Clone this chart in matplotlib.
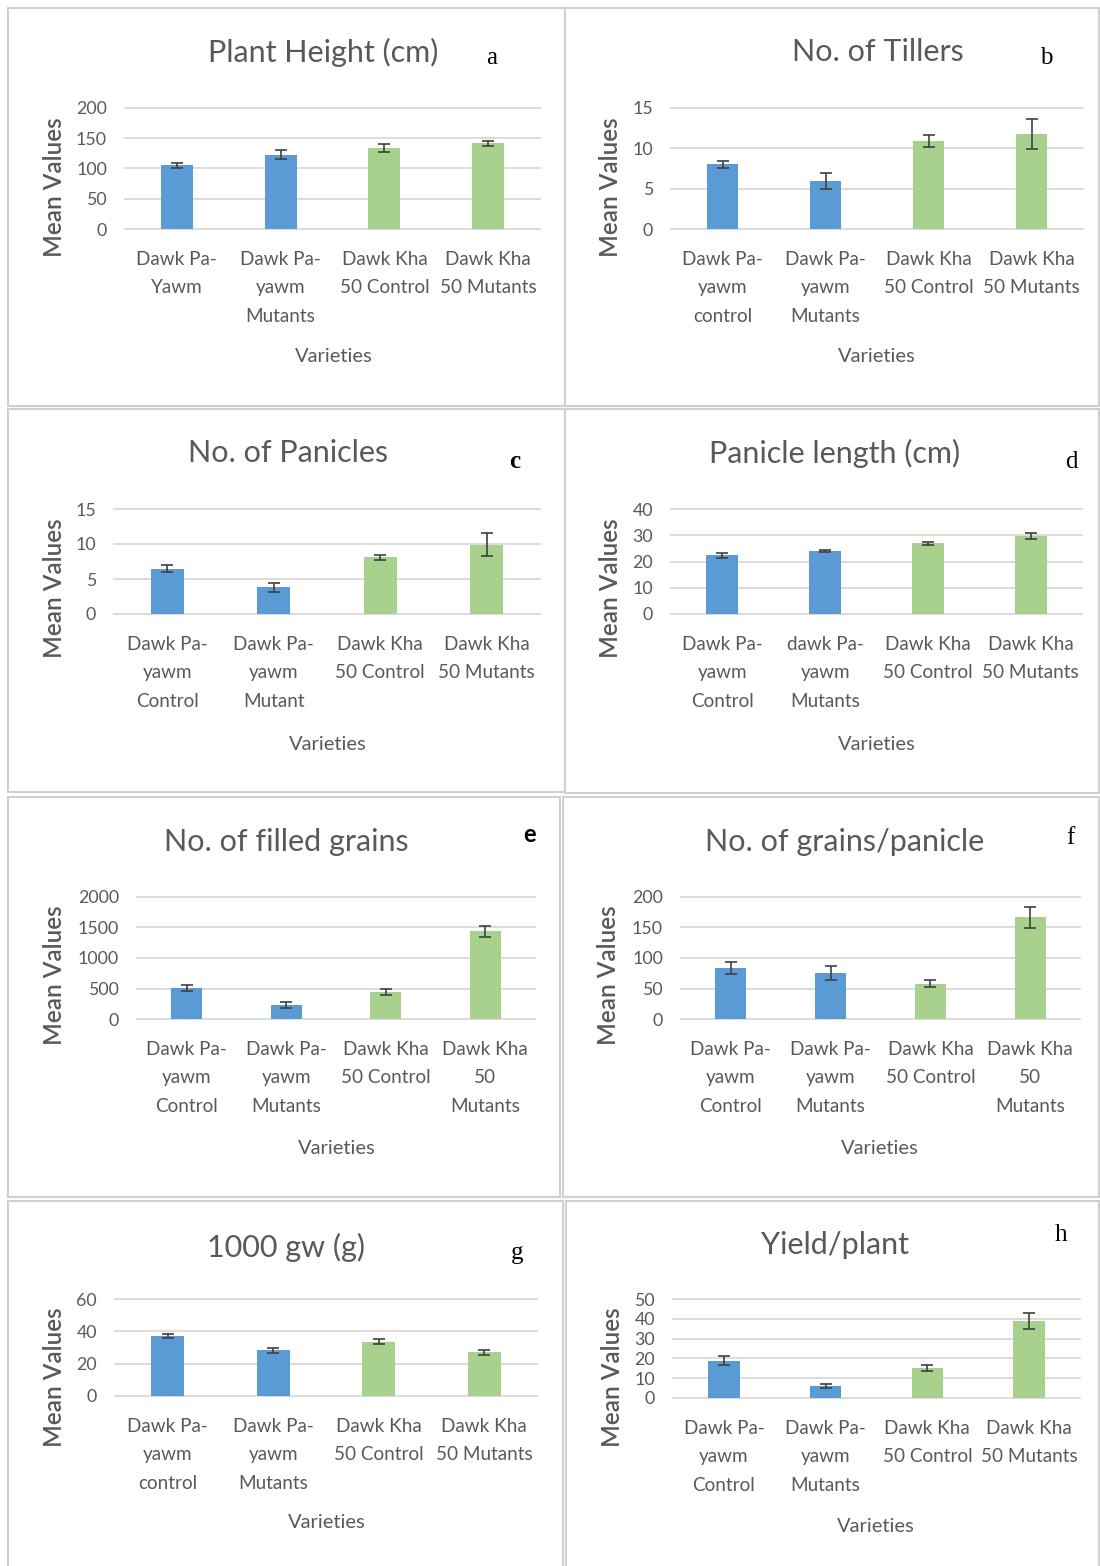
import matplotlib
matplotlib.use('Agg')
import matplotlib.pyplot as plt
from matplotlib.patches import Rectangle

plt.rcParams['font.family'] = ['Lato', 'DejaVu Sans']

# ---- data (mean values and error bars) ----
lab_a = ['Dawk Pa-\nYawm', 'Dawk Pa-\nyawm\nMutants', 'Dawk Kha\n50 Control', 'Dawk Kha\n50 Mutants']
lab_b = ['Dawk Pa-\nyawm\ncontrol', 'Dawk Pa-\nyawm\nMutants', 'Dawk Kha\n50 Control', 'Dawk Kha\n50 Mutants']
lab_c = ['Dawk Pa-\nyawm\nControl', 'Dawk Pa-\nyawm\nMutant', 'Dawk Kha\n50 Control', 'Dawk Kha\n50 Mutants']
lab_d = ['Dawk Pa-\nyawm\nControl', 'dawk Pa-\nyawm\nMutants', 'Dawk Kha\n50 Control', 'Dawk Kha\n50 Mutants']
lab_ef = ['Dawk Pa-\nyawm\nControl', 'Dawk Pa-\nyawm\nMutants', 'Dawk Kha\n50 Control', 'Dawk Kha\n50\nMutants']
lab_g = ['Dawk Pa-\nyawm\ncontrol', 'Dawk Pa-\nyawm\nMutants', 'Dawk Kha\n50 Control', 'Dawk Kha\n50 Mutants']
lab_h = ['Dawk Pa-\nyawm\nControl', 'Dawk Pa-\nyawm\nMutants', 'Dawk Kha\n50 Control', 'Dawk Kha\n50 Mutants']

height_mean = [105, 123, 134, 142]
height_err = [4, 7, 7, 4]
tillers_mean = [8.0, 6.0, 10.9, 11.8]
tillers_err = [0.45, 1.0, 0.75, 1.85]
panicles_mean = [6.5, 3.8, 8.1, 9.9]
panicles_err = [0.5, 0.62, 0.33, 1.65]
plength_mean = [22.3, 24.1, 26.9, 29.6]
plength_err = [1.0, 0.4, 0.7, 1.1]
filled_mean = [503, 235, 443, 1437]
filled_err = [47, 47, 47, 90]
gpp_mean = [83.6, 74.9, 57.9, 166.7]
gpp_err = [10, 11.7, 5.7, 17.5]
gw_mean = [37.3, 28.2, 33.6, 27.0]
gw_err = [1.3, 1.6, 1.6, 1.4]
yield_mean = [18.9, 6.1, 15.2, 39.0]
yield_err = [2.2, 0.85, 1.4, 4.1]

W, H = 1100, 1566
fig = plt.figure(figsize=(W / 100, H / 100), dpi=100)

def fx(x):
    return x / W

def fy(y):
    return 1 - y / H

blue, green = '#5B9BD5', '#A9D18E'
bar_colors = [blue, blue, green, green]
txt = '#595959'
grid_c = '#D9D9D9'

# panel: title, letter, labels, means, errs, ymax, step, box, axes box, title pos, letter pos, ylabel pos, xlabel pos
panels = [
    ('Plant Height (cm)', 'a', lab_a, height_mean, height_err, 200, 50,
     (8, 8, 565, 406), (125, 108, 540, 229), (323, 52), (492, 58), (55, 187), (334, 357)),
    ('No. of Tillers', 'b', lab_b, tillers_mean, tillers_err, 15, 5,
     (565, 8, 1099, 406), (671, 108, 1083, 229), (878, 52), (1046, 58), (610, 187), (877, 357)),
    ('No. of Panicles', 'c', lab_c, panicles_mean, panicles_err, 15, 5,
     (8, 409, 565, 792), (114, 509, 540, 614), (288, 453), (515, 462), (54, 588), (328, 744)),
    ('Panicle length (cm)', 'd', lab_d, plength_mean, plength_err, 40, 10,
     (565, 409, 1099, 793), (671, 509, 1082, 614), (835, 453), (1071, 462), (610, 588), (877, 744)),
    ('No. of filled grains', 'e', lab_ef, filled_mean, filled_err, 2000, 500,
     (8, 797, 560, 1197), (137, 897, 535, 1019), (286, 842), (530, 835), (55, 975), (337, 1149)),
    ('No. of grains/panicle', 'f', lab_ef, gpp_mean, gpp_err, 200, 50,
     (563, 797, 1099, 1197), (681, 897, 1080, 1019), (845, 842), (1070, 838), (608, 975), (880, 1149)),
    ('1000 gw (g)', 'g', lab_g, gw_mean, gw_err, 60, 20,
     (8, 1201, 563, 1570), (115, 1299, 537, 1396), (286, 1247), (517, 1253), (54, 1377), (327, 1523)),
    ('Yield/plant', 'h', lab_h, yield_mean, yield_err, 50, 10,
     (566, 1201, 1099, 1570), (673, 1299, 1080, 1398), (835, 1245), (1061, 1235), (612, 1377), (876, 1527)),
]

for (title, letter, labels, means, errs, ymax, step,
     box, abox, tpos, lpos, ypos, xpos) in panels:
    bx0, by0, bx1, by1 = box
    fig.patches.append(Rectangle((fx(bx0), fy(by1)), (bx1 - bx0) / W, (by1 - by0) / H,
                                 transform=fig.transFigure, fill=False,
                                 edgecolor='#D0D0D0', linewidth=1.5))
    x0, y0, x1, y1 = abox
    ax = fig.add_axes([fx(x0), fy(y1), (x1 - x0) / W, (y1 - y0) / H])
    xs = range(len(means))
    ax.bar(xs, means, width=0.31, color=bar_colors, zorder=3)
    ax.errorbar(xs, means, yerr=errs, fmt='none', ecolor='#404040',
                elinewidth=1.2, capsize=4.5, capthick=1.2, zorder=4)
    ax.set_xlim(-0.5, 3.5)
    ax.set_ylim(0, ymax)
    ax.set_yticks(range(0, ymax + 1, step))
    ax.set_xticks(list(xs))
    ax.set_xticklabels(labels, linespacing=1.8)
    ax.grid(axis='y', color=grid_c, linewidth=1.3)
    ax.set_axisbelow(True)
    for s in ax.spines.values():
        s.set_visible(False)
    ax.tick_params(axis='y', length=0, labelsize=12.8, colors=txt, pad=13)
    ax.tick_params(axis='x', length=0, labelsize=13.6, colors=txt, pad=16)
    for g in ax.get_ygridlines():
        g.set_clip_on(False)

    fig.text(fx(tpos[0]), fy(tpos[1]), title, ha='center', va='center',
             fontsize=22, color=txt)
    if letter == 'e':
        fig.text(fx(lpos[0]), fy(lpos[1]), letter, ha='center', va='center',
                 fontsize=17, fontweight='bold', color='black')
    else:
        fig.text(fx(lpos[0]), fy(lpos[1]), letter, ha='center', va='center',
                 fontsize=18, family='Liberation Serif', color='black',
                 fontweight='bold' if letter == 'c' else 'normal')
    fig.text(fx(ypos[0]), fy(ypos[1]), 'Mean Values', rotation=90,
             ha='center', va='center', fontsize=17.5, fontweight='semibold', color=txt)
    fig.text(fx(xpos[0]), fy(xpos[1]), 'Varieties', ha='center', va='center',
             fontsize=14.5, color=txt)

fig.savefig('out.png', dpi=100, facecolor='white')
